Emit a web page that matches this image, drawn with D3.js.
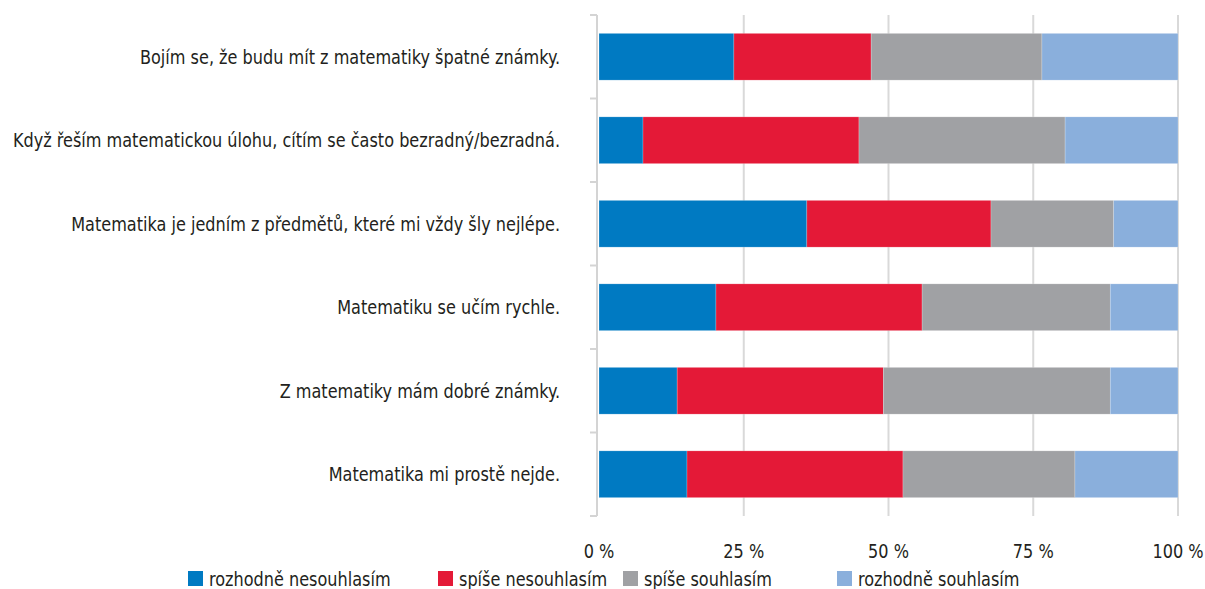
<!DOCTYPE html>
<html><head><meta charset="utf-8">
<script src="https://cdn.jsdelivr.net/npm/d3@7"></script>
<style>
body{margin:0;background:#fff;}
svg text{font-family:"Liberation Sans Narrow","DejaVu Sans Condensed","DejaVu Sans",sans-serif;fill:#231f20;font-size:20px;}
</style></head>
<body><svg id="c" width="1205" height="589"></svg>
<script>
const categories = [
  "Bojím se, že budu mít z matematiky špatné známky.",
  "Když řeším matematickou úlohu, cítím se často bezradný/bezradná.",
  "Matematika je jedním z předmětů, které mi vždy šly nejlépe.",
  "Matematiku se učím rychle.",
  "Z matematiky mám dobré známky.",
  "Matematika mi prostě nejde."
];
const seriesNames = ["rozhodně nesouhlasím","spíše nesouhlasím","spíše souhlasím","rozhodně souhlasím"];
const rozhodneNesouhlasim = [23.3, 7.6, 35.9, 20.2, 13.5, 15.2];
const spiseNesouhlasim    = [23.7, 37.3, 31.8, 35.6, 35.6, 37.3];
const spiseSouhlasim      = [29.5, 35.6, 21.2, 32.5, 39.2, 29.7];
const rozhodneSouhlasim   = [23.5, 19.5, 11.1, 11.7, 11.7, 17.8];
const tickValues = [0, 25, 50, 75, 100];
const tickLabels = ["0 %", "25 %", "50 %", "75 %", "100 %"];
const colors = ["#007ac2", "#e41937", "#a0a1a4", "#8aafdc"];

const SX = 0.895; // horizontal compression to mimic a condensed face

const seriesData = [rozhodneNesouhlasim, spiseNesouhlasim, spiseSouhlasim, rozhodneSouhlasim];
const rows = categories.map((c, i) => {
  const o = {cat: c};
  seriesNames.forEach((s, j) => o[s] = seriesData[j][i]);
  return o;
});
const stack = d3.stack().keys(seriesNames)(rows);

const svg = d3.select("#c");
const x = d3.scaleLinear().domain([0, 100]).range([599, 1178]);
const y = d3.scaleBand().domain(categories).range([15, 516]).paddingInner(0.44).paddingOuter(0.22);

// gridlines
svg.append("g").selectAll("line").data(tickValues.slice(1)).join("line")
  .attr("x1", d => x(d)).attr("x2", d => x(d))
  .attr("y1", 15).attr("y2", 516)
  .attr("stroke", "#d9d9d9").attr("stroke-width", 2);

// left axis line with ticks
const step = (516 - 15) / categories.length;
const ag = svg.append("g");
ag.append("line").attr("x1", 597).attr("x2", 597).attr("y1", 15).attr("y2", 516)
  .attr("stroke", "#d4d4d4").attr("stroke-width", 2);
ag.selectAll("line.t").data(d3.range(categories.length + 1)).join("line").attr("class","t")
  .attr("x1", 590).attr("x2", 597)
  .attr("y1", d => 15 + d * step).attr("y2", d => 15 + d * step)
  .attr("stroke", "#d4d4d4").attr("stroke-width", 2);

// bars
svg.append("g").selectAll("g").data(stack).join("g")
  .attr("fill", (d, i) => colors[i])
  .selectAll("rect").data(d => d).join("rect")
  .attr("x", d => x(d[0]))
  .attr("width", d => x(d[1]) - x(d[0]))
  .attr("y", d => y(d.data.cat))
  .attr("height", y.bandwidth())
  .attr("stroke", "rgba(255,255,255,0.35)").attr("stroke-width", 0.6);

// category labels
svg.append("g").selectAll("text").data(categories).join("text")
  .attr("transform", d => `translate(560,${y(d) + y.bandwidth() / 2}) scale(${SX},1)`)
  .attr("dy", "0.35em").attr("text-anchor", "end")
  .text(d => d);

// x tick labels
svg.append("g").selectAll("text").data(tickValues).join("text")
  .attr("transform", d => `translate(${x(d)},551) scale(${SX},1)`)
  .attr("dy", "0.35em").attr("text-anchor", "middle")
  .text((d, i) => tickLabels[i]);

// legend
const legendX = [188, 438, 623, 837];
const lg = svg.append("g").selectAll("g").data(seriesNames).join("g")
  .attr("transform", (d, i) => `translate(${legendX[i]},571)`);
lg.append("rect").attr("width", 15).attr("height", 15).attr("fill", (d, i) => colors[i]);
lg.append("text").attr("transform", `translate(21,8) scale(${SX},1)`).attr("dy", "0.35em")
  .text(d => d);
</script></body></html>
